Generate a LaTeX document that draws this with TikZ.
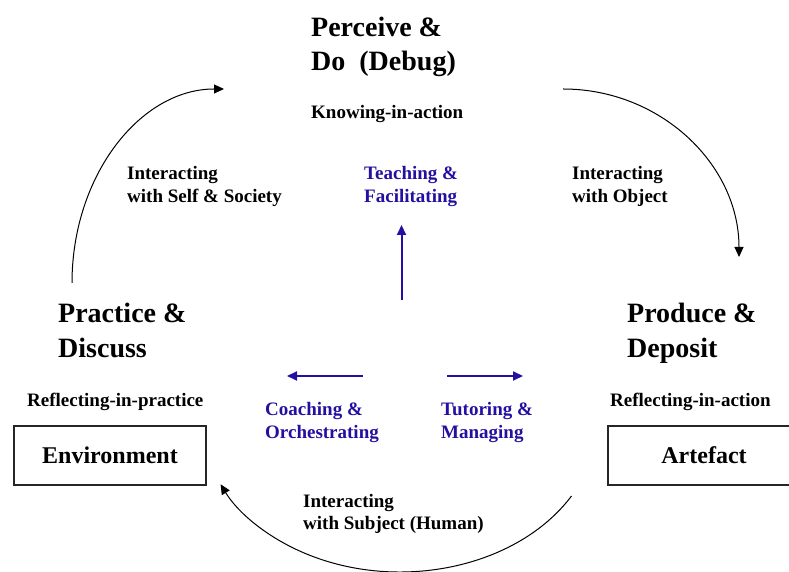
\documentclass[tikz,border=0pt]{standalone}
\usepackage{fontspec}
\setmainfont{Liberation Serif}
\usetikzlibrary{arrows.meta}
\definecolor{tblue}{RGB}{35,15,160}
\newcommand{\twoline}[3]{\vtop{\baselineskip=#3\hbox{#1}\hbox{#2}}}
\begin{document}
\begin{tikzpicture}[x=1pt,y=1pt,
  lbl/.style={anchor=base west,inner sep=0pt,font=\bfseries\fontsize{19}{23}\selectfont},
  ttl/.style={anchor=base west,inner sep=0pt,font=\bfseries\fontsize{28}{34}\selectfont},
  blbl/.style={lbl,text=tblue},
  boxnode/.style={draw=black!85,line width=1.2pt,minimum width=192pt,minimum height=59pt,inner sep=0pt,font=\bfseries\fontsize{24}{29}\selectfont},
  conn/.style={line width=1pt,-{Triangle[length=10pt,width=9pt]}},
  bconn/.style={tblue,line width=2pt,-{Triangle[length=10pt,width=9pt]}}]
\useasboundingbox (0,0) rectangle (789,572);
\clip (0,0) rectangle (789,572);

% titles
\node[ttl] (perc) at (311,535) {\twoline{Perceive \&}{Do\ \ (Debug)}{34pt}};
\node[lbl] (know) at (311,453) {Knowing-in-action};
\node[ttl] (prac) at (58,249) {\twoline{Practice \&}{Discuss}{35pt}};
\node[lbl] (refp) at (27,165) {Reflecting-in-practice};
\node[ttl] (prod) at (627,249) {\twoline{Produce \&}{Deposit}{35pt}};
\node[lbl] (refa) at (610,165) {Reflecting-in-action};

% boxes
\node[boxnode] (env) at (110,116.5) {Environment};
\node[boxnode] (art) at (704,116.5) {Artefact};

% interaction labels
\node[lbl] (iss) at (127,392) {\twoline{Interacting}{with Self \& Society}{23pt}};
\node[lbl] (iobj) at (572,392) {\twoline{Interacting}{with Object}{23pt}};
\node[lbl] (isub) at (303,64) {\twoline{Interacting}{with Subject (Human)}{22pt}};

% blue labels
\node[blbl] (teach) at (364,392) {\twoline{Teaching \&}{Facilitating}{23pt}};
\node[blbl] (coach) at (265,156) {\twoline{Coaching \&}{Orchestrating}{23pt}};
\node[blbl] (tutor) at (441,156) {\twoline{Tutoring \&}{Managing}{23pt}};

% blue arrows
\coordinate (ub) at (401.5,272);
\coordinate (ut) at (401.5,347);
\coordinate (lb) at (363,196);
\coordinate (lt) at (287,196);
\coordinate (rb) at (447,196);
\coordinate (rt) at (523,196);
\draw[bconn] (ub) -- (ut);
\draw[bconn] (lb) -- (lt);
\draw[bconn] (rb) -- (rt);

% cycle arcs
\coordinate (la) at (72,289);
\draw[conn] (la) arc[start angle=180,end angle=90,x radius=152,y radius=194];
\coordinate (ra) at (563,483);
\draw[conn] (ra) arc[start angle=90,end angle=0,x radius=176,y radius=168];
\coordinate (ba) at (571.5,76);
\draw[conn] (ba) arc[start angle=-30,end angle=-155,x radius=198,y radius=152];
\end{tikzpicture}
\end{document}
